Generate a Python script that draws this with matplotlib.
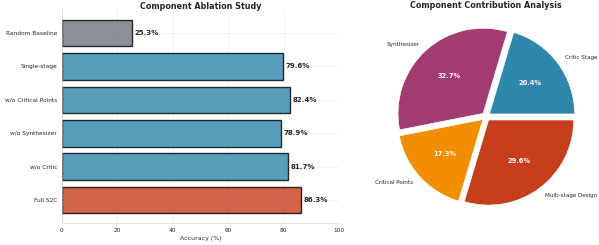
import matplotlib.pyplot as plt
import seaborn as sns

sns.set_style('whitegrid')

variants = ['Full S2C', 'w/o Critic', 'w/o Synthesizer', 'w/o Critical Points',
            'Single-stage', 'Random Baseline']
accuracy = [86.3, 81.7, 78.9, 82.4, 79.6, 25.3]
bar_colors = ['#C73E1D', '#2E86AB', '#2E86AB', '#2E86AB', '#2E86AB', '#6C757D']

components = ['Critic Stage', 'Synthesizer', 'Critical Points', 'Multi-stage Design']
contribution = [20.4, 32.7, 17.3, 29.6]
pie_colors = ['#2E86AB', '#A23B72', '#F18F01', '#C73E1D']

fig = plt.figure(figsize=(11.98, 4.9), dpi=50)
ax1 = fig.add_axes([0.1035, 0.0898, 0.4625, 0.869])
ax2 = fig.add_axes([0.6336, 0.0898, 0.3556, 0.869])

bars = ax1.barh(variants, accuracy, color=bar_colors, alpha=0.8,
                edgecolor='black', linewidth=2)
for bar, val in zip(bars, accuracy):
    ax1.text(bar.get_width() + 1, bar.get_y() + bar.get_height() / 2,
             f'{val}%', va='center', fontweight='bold', fontsize=10)
ax1.set_xlim(0, 100)
ax1.set_xlabel('Accuracy (%)', fontsize=9)
ax1.set_title('Component Ablation Study', fontsize=11.6, fontweight='bold', pad=1)
ax1.tick_params(labelsize=8.4)
ax1.grid(True, alpha=0.4)
sns.despine(ax=ax1)

wedges, texts, autotexts = ax2.pie(contribution, labels=components, colors=pie_colors,
                                   autopct='%1.1f%%', startangle=0,
                                   explode=[0.05] * 4, textprops={'fontsize': 8.1})
for t in autotexts:
    t.set_color('white')
    t.set_fontweight('bold')
    t.set_fontsize(9.6)
ax2.set_title('Component Contribution Analysis', fontsize=11.6, fontweight='bold', pad=1)

plt.savefig('out.png')
